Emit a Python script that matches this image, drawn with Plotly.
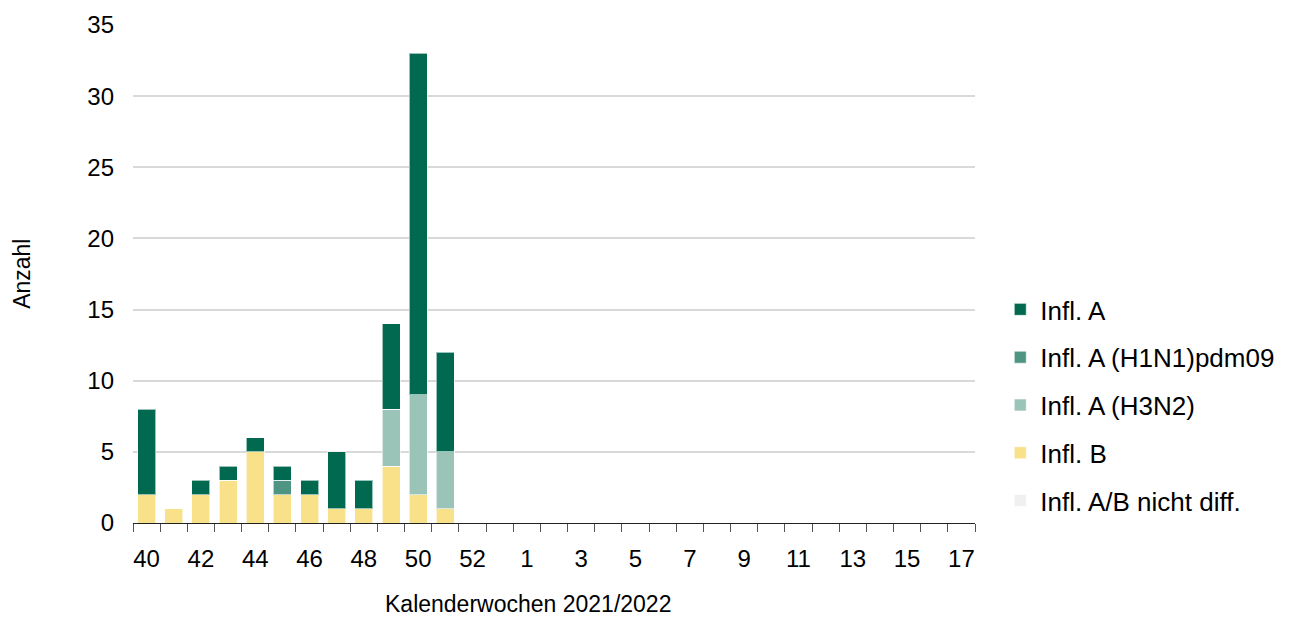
import plotly.graph_objects as go

weeks = [str(w) for w in range(40, 54)] + [str(w) for w in range(1, 18)]
infl_b =      [2, 1, 2, 3, 5, 2, 2, 1, 1, 4, 2, 1] + [0] * 19
infl_ab_nd =  [0] * 31
infl_h3n2 =   [0, 0, 0, 0, 0, 0, 0, 0, 0, 4, 7, 4] + [0] * 19
infl_h1n1 =   [0, 0, 0, 0, 0, 1, 0, 0, 0, 0, 0, 0] + [0] * 19
infl_a =      [6, 0, 1, 1, 1, 1, 1, 4, 2, 6, 24, 7] + [0] * 19

xpos = list(range(len(weeks)))
label_idx = xpos[::2]
label_txt = [weeks[i] for i in label_idx]

series = [
    ("Infl. B", infl_b, "#f9e189", 4),
    ("Infl. A/B nicht diff.", infl_ab_nd, "#f0f0f0", 5),
    ("Infl. A (H3N2)", infl_h3n2, "#9bc4b8", 3),
    ("Infl. A (H1N1)pdm09", infl_h1n1, "#4e9584", 2),
    ("Infl. A", infl_a, "#006950", 1),
]

fig = go.Figure()
for name, vals, color, rank in series:
    fig.add_trace(go.Bar(
        x=xpos, y=vals, name=name, legendgroup=name,
        marker=dict(color=color, line=dict(color="rgba(255,255,255,0.6)", width=1)),
        width=0.66, legendrank=rank,
    ))

font = "Liberation Sans, Arial, sans-serif"
fig.update_layout(
    barmode="stack",
    width=1296, height=617,
    margin=dict(l=133, r=321, t=25, b=94),
    plot_bgcolor="white", paper_bgcolor="white",
    font=dict(family=font, size=24, color="#000000"),
    showlegend=True,
    legend=dict(
        x=1.03, xanchor="left", y=0.236, yanchor="middle",
        traceorder="grouped", tracegroupgap=11,
        font=dict(size=26), itemwidth=30,
    ),
    xaxis=dict(
        range=[-0.5, len(weeks) - 0.5],
        tickmode="array", tickvals=label_idx, ticktext=label_txt,
        ticks="", showgrid=False, zeroline=False,
        showline=True, linecolor="#222222", linewidth=1,
        tickfont=dict(size=24), ticklabelstandoff=14,
        minor=dict(tickmode="array", tickvals=[i - 0.5 for i in range(len(weeks) + 1)],
                   ticks="outside", ticklen=8, tickcolor="#555555", tickwidth=1, showgrid=False),
    ),
    yaxis=dict(
        range=[0, 35], dtick=5, showgrid=True, gridcolor="#d9d9d9", gridwidth=2,
        zeroline=False, ticks="", tickfont=dict(size=24), ticklabelstandoff=18,
    ),
    annotations=[
        dict(text="Kalenderwochen 2021/2022", xref="paper", yref="paper",
             x=0.469, y=-0.163, xanchor="center", yanchor="middle",
             showarrow=False, font=dict(size=23)),
        dict(text="Anzahl", xref="paper", yref="paper", textangle=-90,
             x=-0.132, y=0.5, xanchor="center", yanchor="middle",
             showarrow=False, font=dict(size=23)),
    ],
)

fig.write_html("out.html", config={"displayModeBar": False},
               post_script="document.body.style.margin='0';")
